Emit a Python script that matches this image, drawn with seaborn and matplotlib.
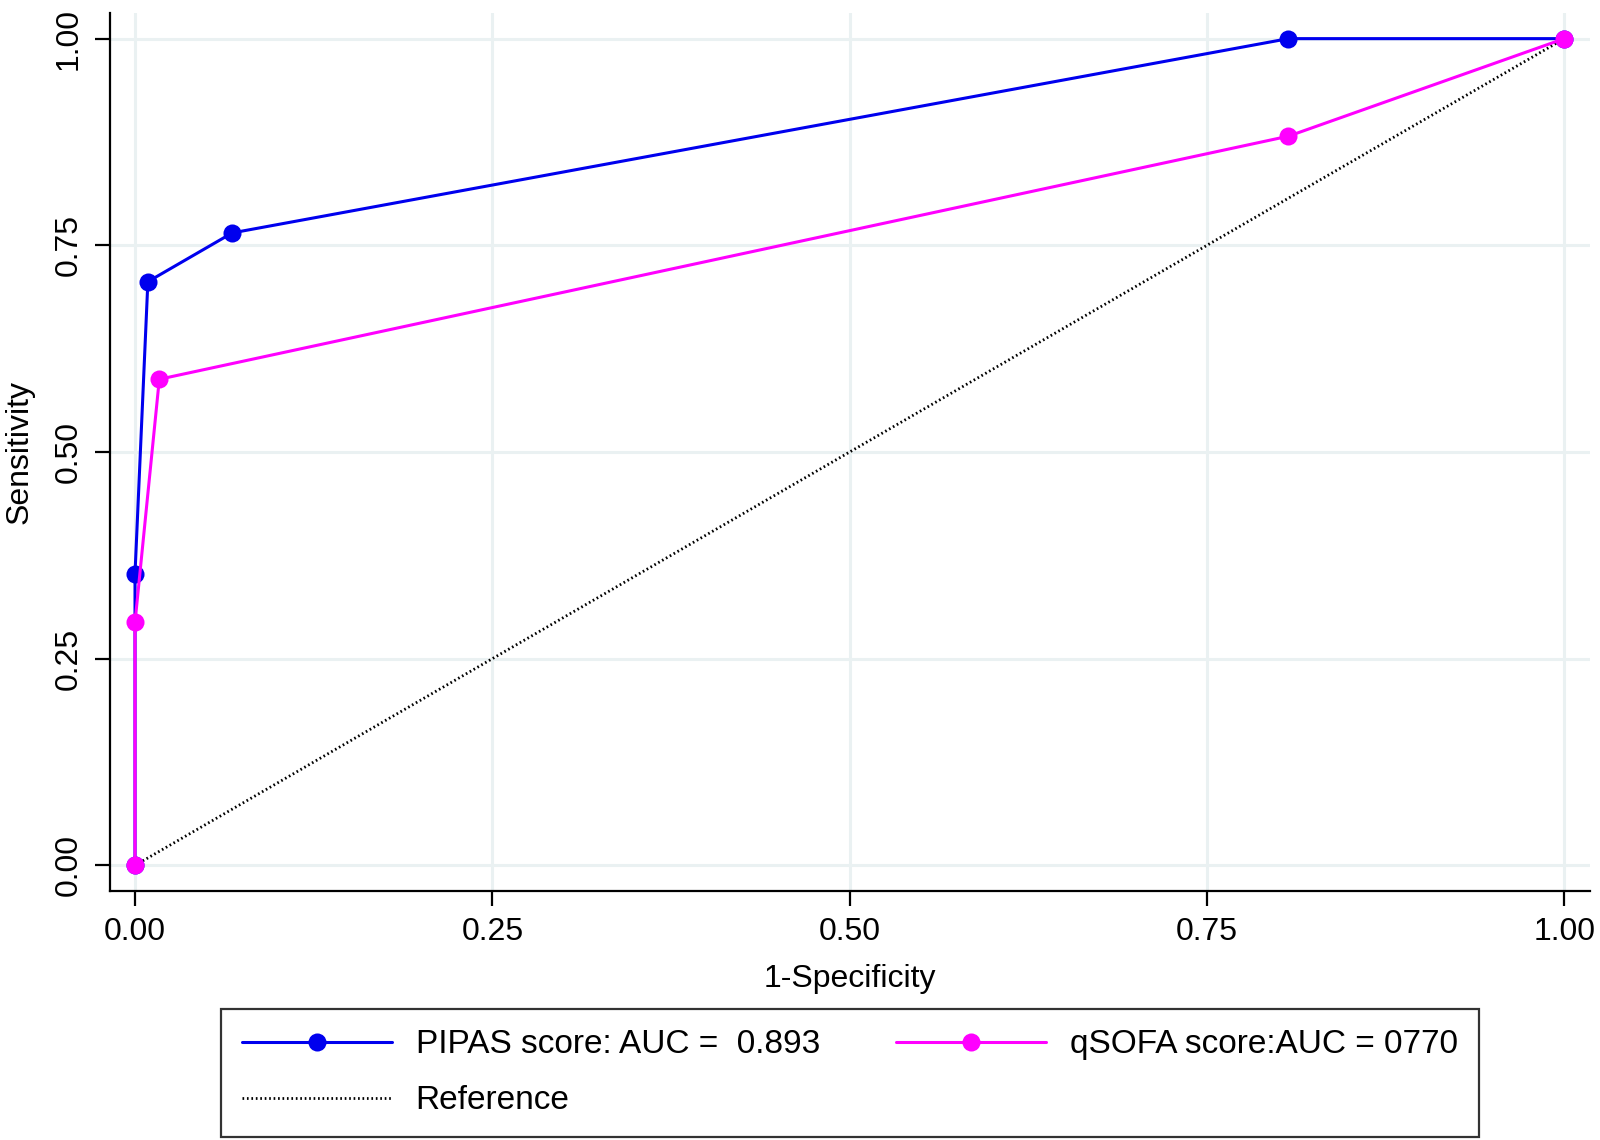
import numpy as np
import pandas as pd
import matplotlib
matplotlib.use("Agg")
import matplotlib.pyplot as plt
import seaborn as sns

# ---- data ----
pipas_fpr = [0.0, 0.0, 0.009, 0.068, 0.807, 1.0]
pipas_tpr = [0.0, 0.353, 0.706, 0.765, 1.0, 1.0]
qsofa_fpr = [0.0, 0.0, 0.017, 0.807, 1.0]
qsofa_tpr = [0.0, 0.294, 0.588, 0.882, 1.0]
ref_x = [0.0, 1.0]
ref_y = [0.0, 1.0]
ticks = [0.0, 0.25, 0.5, 0.75, 1.0]
tick_labels = ["0.00", "0.25", "0.50", "0.75", "1.00"]
labels = ["PIPAS score: AUC =  0.893", "qSOFA score:AUC = 0770", "Reference"]

sns.set_theme(style="white")
plt.rcParams['font.family'] = ['Liberation Sans', 'DejaVu Sans']
plt.rcParams['text.color'] = 'black'
plt.rcParams['axes.labelcolor'] = 'black'
plt.rcParams['xtick.color'] = 'black'
plt.rcParams['ytick.color'] = 'black'

fig = plt.figure(figsize=(16, 11.4), dpi=100)
ax = fig.add_axes([110/1600, 1-891/1140, 1480/1600, 878/1140])

blue = '#0000ee'
mag = '#ff00ff'

sns.lineplot(x=ref_x, y=ref_y, ax=ax, color='black', lw=2.0,
             linestyle=(0, (0.6, 1.0)), estimator=None, sort=False, label=labels[2])
sns.lineplot(x=pipas_fpr, y=pipas_tpr, ax=ax, color=blue, lw=2.2, marker='o',
             markersize=13, markeredgewidth=0, estimator=None, sort=False, label=labels[0])
sns.lineplot(x=qsofa_fpr, y=qsofa_tpr, ax=ax, color=mag, lw=2.2, marker='o',
             markersize=13, markeredgewidth=0, estimator=None, sort=False, label=labels[1])

ax.set_xlim(-0.0175, 1.018)
ax.set_ylim(-0.031, 1.031)
ax.set_xticks(ticks)
ax.set_xticklabels(tick_labels)
ax.set_yticks(ticks)
ax.set_yticklabels(tick_labels, rotation=90, va='center')
ax.grid(True, color='#eaf1f2', lw=2.2)
ax.set_axisbelow(True)
for s in ['top', 'right']:
    ax.spines[s].set_visible(False)
for s in ['left', 'bottom']:
    ax.spines[s].set_color('black')
    ax.spines[s].set_linewidth(1.6)
ax.tick_params(axis='both', which='major', direction='out', length=11, width=1.6,
               color='black', labelcolor='black', labelsize=23, pad=8, bottom=True, left=True)
ax.set_xlabel("1-Specificity", fontsize=23, labelpad=12, color='black')
ax.set_ylabel("Sensitivity", fontsize=23, labelpad=14, color='black')

ax.get_legend().remove()
h, l = ax.get_legend_handles_labels()
hd = dict(zip(l, h))
order = [labels[0], labels[2], labels[1]]
leg = fig.legend([hd[k] for k in order], order, ncol=2, loc='lower left',
                 bbox_to_anchor=(221/1600, 3/1140, 1258/1600, 127/1140), mode='expand',
                 borderaxespad=0, fontsize=24, frameon=True, fancybox=False, edgecolor='black',
                 handlelength=4.5, handletextpad=0.72, columnspacing=2.2,
                 labelspacing=0.75, borderpad=0.62)
leg.get_frame().set_linewidth(1.6)

fig.savefig("out.png", dpi=100)
